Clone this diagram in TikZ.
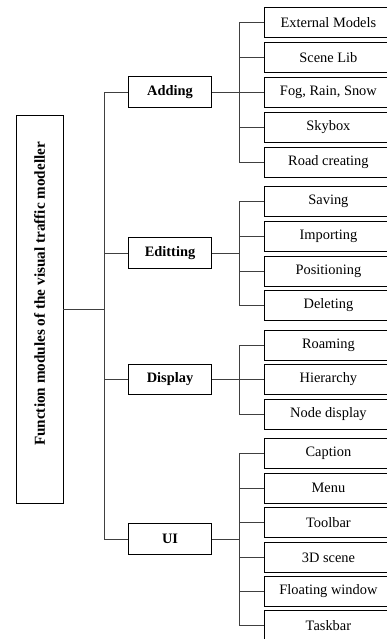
\documentclass[tikz,border=0pt]{standalone}
\usepackage{fontspec}
\setmainfont{Liberation Serif}
\usepackage{graphicx}
\usepackage{tikz}

\tikzset{
  leafbox/.style={draw,line width=0.8pt,anchor=west,minimum width=128,minimum height=30,inner sep=0pt,font=\fontsize{14.4}{16}\selectfont},
  groupbox/.style={draw,line width=0.8pt,minimum width=83,minimum height=30.5,inner sep=0pt,font=\fontsize{14.4}{16}\selectfont\bfseries},
  link/.style={line width=0.8pt,black!75}
}

\begin{document}
\begin{tikzpicture}[x=1pt,y=-1pt]
        \useasboundingbox (0,0) rectangle (387,639);
        % title box
        \node[draw,line width=0.8pt,minimum width=47,minimum height=388,inner sep=0pt,font=\fontsize{15.2}{17}\selectfont\bfseries] (title) at (39.5,309)
          {\rotatebox{90}{\hspace*{30pt}Function modules of the visual traffic modeller}};
        % groups
        \node[groupbox] (adding) at (170,92) {Adding};
        \node[groupbox] (editting) at (170,253) {Editting};
        \node[groupbox] (display) at (170,379.3) {Display};
        \node[groupbox] (ui) at (170,539) {UI};
        % leaves of Adding
        \node[leafbox] (extmodels) at (264,22.3) {External Models};
        \node[leafbox] (scenelib) at (264,57.3) {Scene Lib};
        \node[leafbox] (weather) at (264,92) {Fog, Rain, Snow};
        \node[leafbox] (skybox) at (264,127.5) {Skybox};
        \node[leafbox] (road) at (264,162.3) {Road creating};
        % leaves of Editting
        \node[leafbox] (saving) at (264,201) {Saving};
        \node[leafbox] (importing) at (264,236.5) {Importing};
        \node[leafbox] (positioning) at (264,271) {Positioning};
        \node[leafbox] (deleting) at (264,305.3) {Deleting};
        % leaves of Display
        \node[leafbox] (roaming) at (264,345) {Roaming};
        \node[leafbox] (hierarchy) at (264,379.3) {Hierarchy};
        \node[leafbox] (nodedisp) at (264,414.3) {Node display};
        % leaves of UI
        \node[leafbox] (caption) at (264,453.3) {Caption};
        \node[leafbox] (menu) at (264,488.3) {Menu};
        \node[leafbox] (toolbar) at (264,522.7) {Toolbar};
        \node[leafbox] (scene3d) at (264,557.7) {3D scene};
        \node[leafbox] (floatwin) at (264,591.3) {Floating window};
        \node[leafbox] (taskbar) at (264,625.7) {Taskbar};
        % trunk points
        \coordinate (mainT) at (104,309);
        \coordinate (addT) at (239,92);
        \coordinate (editT) at (239,253);
        \coordinate (dispT) at (239,379.3);
        \coordinate (uiT) at (239,539);
        % title to groups
        \draw[link] (title.east) -- (mainT);
        \draw[link] (mainT) |- (adding.west);
        \draw[link] (mainT) |- (editting.west);
        \draw[link] (mainT) |- (display.west);
        \draw[link] (mainT) |- (ui.west);
        % Adding
        \draw[link] (adding.east) -- (addT);
        \draw[link] (addT) |- (extmodels.west);
        \draw[link] (addT) |- (scenelib.west);
        \draw[link] (addT) |- (weather.west);
        \draw[link] (addT) |- (skybox.west);
        \draw[link] (addT) |- (road.west);
        % Editting
        \draw[link] (editting.east) -- (editT);
        \draw[link] (editT) |- (saving.west);
        \draw[link] (editT) |- (importing.west);
        \draw[link] (editT) |- (positioning.west);
        \draw[link] (editT) |- (deleting.west);
        % Display
        \draw[link] (display.east) -- (dispT);
        \draw[link] (dispT) |- (roaming.west);
        \draw[link] (dispT) |- (hierarchy.west);
        \draw[link] (dispT) |- (nodedisp.west);
        % UI
        \draw[link] (ui.east) -- (uiT);
        \draw[link] (uiT) |- (caption.west);
        \draw[link] (uiT) |- (menu.west);
        \draw[link] (uiT) |- (toolbar.west);
        \draw[link] (uiT) |- (scene3d.west);
        \draw[link] (uiT) |- (floatwin.west);
        \draw[link] (uiT) |- (taskbar.west);
\end{tikzpicture}
\end{document}
